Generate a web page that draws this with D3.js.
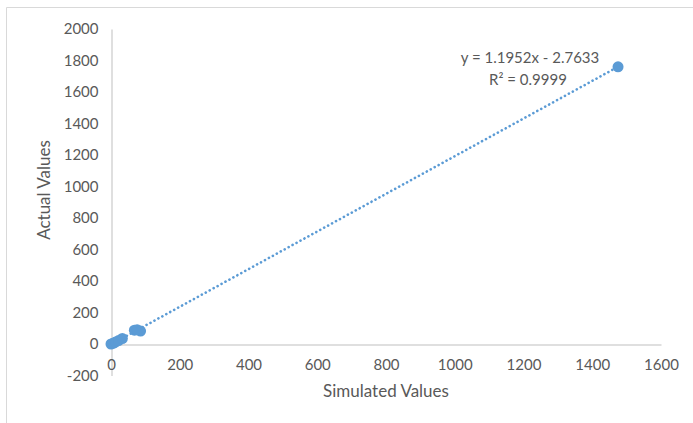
<!DOCTYPE html>
<html>
<head>
<meta charset="utf-8">
<title>scatter with trendline</title>
<script src="https://d3js.org/d3.v7.min.js"></script>
<style>
	body { margin: 0; background: #fff; }
	text { font-family: Lato, 'Open Sans', sans-serif; fill: #595959; }
</style>
</head>
<body>
<svg id="chart" width="693" height="423"></svg>
<script>
	// data
	var simulated = [0, 6, 13, 22, 33, 68, 76, 86, 1475];
	var actual = [0, 4, 12, 22, 35, 88, 90, 82, 1760];
	var xTicks = [0, 200, 400, 600, 800, 1000, 1200, 1400, 1600];
	var yTicks = [-200, 0, 200, 400, 600, 800, 1000, 1200, 1400, 1600, 1800, 2000];
	var slope = 1.1952, intercept = -2.7633;

	var blue = '#5b9bd5', grey = '#bfbfbf';
	var svg = d3.select('#chart');
	var fmt = d => String(d);   // plain numbers, hyphen minus like excel

	// outer chart frame (only top/left visible)
	svg.append('path')
		.attr('d', 'M6.5,423 V7.5 H693')
		.attr('fill', 'none')
		.attr('stroke', '#d9d9d9');

	var xScale = d3.scaleLinear().domain([0, 1600]).range([111, 661]);
	var yScale = d3.scaleLinear().domain([-200, 2000]).range([375.5, 29]);

	// y axis
	var yAxis = d3.axisLeft(yScale).tickValues(yTicks).tickFormat(fmt).tickSize(0).tickPadding(13);
	svg.append('g')
		.attr('transform', 'translate(' + (xScale(0) + 0.5) + ',0)')
		.call(yAxis)
		.call(g => g.select('.domain').attr('stroke', grey))
		.call(g => g.selectAll('.tick text').attr('font-size', 15).attr('fill', '#595959')
			.style('font-family', 'Lato, sans-serif'));

	// x axis crosses at y = 0
	var xAxis = d3.axisBottom(xScale).tickValues(xTicks).tickFormat(fmt).tickSize(0).tickPadding(15);
	svg.append('g')
		.attr('transform', 'translate(0,' + (Math.round(yScale(0)) + 0.5) + ')')
		.call(xAxis)
		.call(g => g.select('.domain').attr('stroke', grey))
		.call(g => g.selectAll('.tick text').attr('font-size', 15).attr('fill', '#595959')
			.style('font-family', 'Lato, sans-serif'));

	// axis titles
	svg.append('text')
		.attr('x', 386)
		.attr('y', 397)
		.attr('text-anchor', 'middle')
		.attr('font-size', 17)
		.text('Simulated Values');

	svg.append('text')
		.attr('transform', 'translate(50,190) rotate(-90)')
		.attr('text-anchor', 'middle')
		.attr('font-size', 17)
		.text('Actual Values');

	// linear trendline, dotted
	var xMin = d3.min(simulated), xMax = d3.max(simulated);
	svg.append('line')
		.attr('x1', xScale(xMin))
		.attr('y1', yScale(slope * xMin + intercept))
		.attr('x2', xScale(xMax))
		.attr('y2', yScale(slope * xMax + intercept))
		.attr('stroke', blue)
		.attr('stroke-width', 2.6)
		.attr('stroke-linecap', 'round')
		.attr('stroke-dasharray', '0.1 4.4');

	// points
	svg.append('g')
		.selectAll('circle')
		.data(simulated.map((d, i) => [d, actual[i]]))
		.enter().append('circle')
		.attr('cx', d => xScale(d[0]))
		.attr('cy', d => yScale(d[1]))
		.attr('r', 5.5)
		.attr('fill', blue);

	// equation label
	var eq = svg.append('text')
		.attr('text-anchor', 'middle')
		.attr('font-size', 15);
	eq.append('tspan').attr('x', 530).attr('y', 63).text('y = 1.1952x - 2.7633');
	eq.append('tspan').attr('x', 528).attr('y', 85).text('R² = 0.9999');
</script>
</body>
</html>
